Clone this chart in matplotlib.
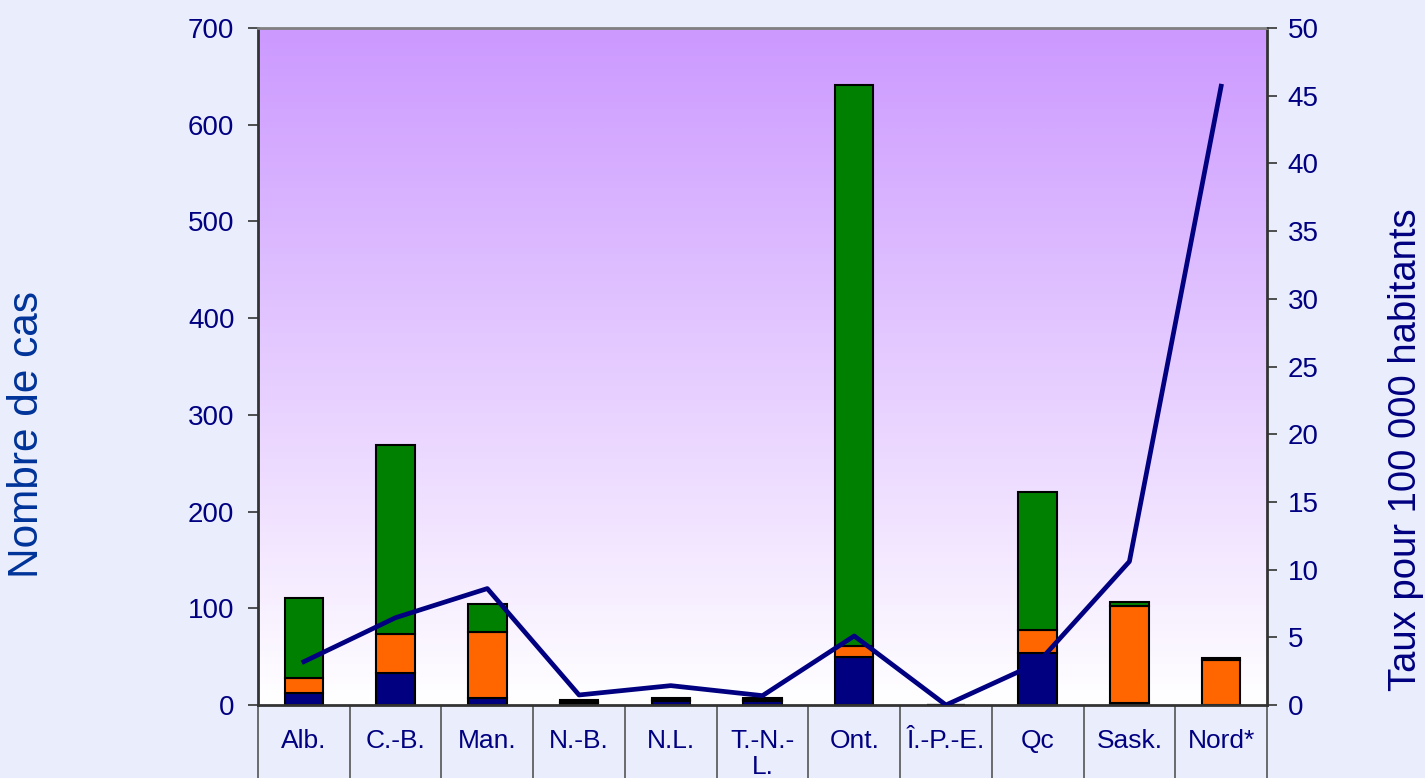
import numpy as np
import matplotlib
matplotlib.use("Agg")
import matplotlib.pyplot as plt
from matplotlib.colors import LinearSegmentedColormap

plt.rcParams['font.family'] = ['Liberation Sans', 'DejaVu Sans']

# categories and values
provinces = ["Alb.", "C.-B.", "Man.", "N.-B.", "N.L.", "T.-N.-\nL.",
             "Ont.", "Î.-P.-E.", "Qc", "Sask.", "Nord*"]
cas_bleu = [12, 33, 7, 2, 4, 4, 50, 0, 54, 2, 0]
cas_orange = [16, 40, 68, 1, 1, 1, 11, 0, 24, 100, 47]
cas_vert = [83, 196, 29, 2, 2, 2, 580, 0, 142, 4, 2]
taux = [3.2, 6.45, 8.6, 0.74, 1.43, 0.69, 5.1, 0.0, 3.1, 10.6, 45.7]

navy = "#000080"
bg = "#EAEEFC"

fig = plt.figure(figsize=(14.25, 7.78), dpi=100, facecolor=bg)
ax = fig.add_axes([258 / 1425, 73 / 778, 1009 / 1425, 677 / 778])

x = np.arange(len(provinces))
ax.set_xlim(-0.5, len(provinces) - 0.5)
ax.set_ylim(0, 700)

# purple -> white gradient plot background
grad = LinearSegmentedColormap.from_list("grad", ["#FFFFFF", "#CC99FF"])
ax.imshow(np.linspace(0, 1, 256).reshape(-1, 1), cmap=grad, origin="lower",
          aspect="auto", extent=[-0.5, len(provinces) - 0.5, 0, 700], zorder=0)

w = 0.42
b1 = np.array(cas_bleu)
b2 = np.array(cas_orange)
b3 = np.array(cas_vert)
ax.bar(x, b1, w, color=navy, edgecolor="black", linewidth=1.5, zorder=2)
ax.bar(x, b2, w, bottom=b1, color="#FF6600", edgecolor="black", linewidth=1.5, zorder=2)
ax.bar(x, b3, w, bottom=b1 + b2, color="#008000", edgecolor="black", linewidth=1.5, zorder=2)

ax.set_yticks(range(0, 701, 100))
ax.tick_params(axis="y", direction="out", length=7, width=1.2, color="#333333",
               labelsize=20, labelcolor=navy, pad=10)

# category labels with long divider ticks
ax.set_xticks(x)
ax.set_xticklabels(provinces, fontsize=19, color=navy, linespacing=1.1)
ax.tick_params(axis="x", which="major", length=0, pad=17)
ax.set_xticks(np.arange(-0.5, len(provinces), 1), minor=True)
ax.tick_params(axis="x", which="minor", length=60, width=1.2, color="#555555")

for s in ["left", "bottom", "right"]:
    ax.spines[s].set_color("#333333")
    ax.spines[s].set_linewidth(2)
ax.spines["top"].set_color("#808080")
ax.spines["top"].set_linewidth(2)

ax.set_ylabel("Nombre de cas", fontsize=30.5, color="#003399")
ax.yaxis.set_label_coords(-0.209, 0.40)

ax2 = ax.twinx()
ax2.set_ylim(0, 50)
ax2.set_yticks(range(0, 51, 5))
ax2.plot(x, taux, color=navy, linewidth=3.4, zorder=3)
ax2.tick_params(axis="y", direction="out", length=7, width=1.2, color="#333333",
                labelsize=20, labelcolor=navy, pad=8)
for s in ax2.spines.values():
    s.set_visible(False)
ax2.set_ylabel("Taux pour 100 000 habitants", fontsize=27.5, color=navy)
ax2.yaxis.set_label_coords(1.12, 0.377)

fig.savefig("out.png", dpi=100, facecolor=bg)
